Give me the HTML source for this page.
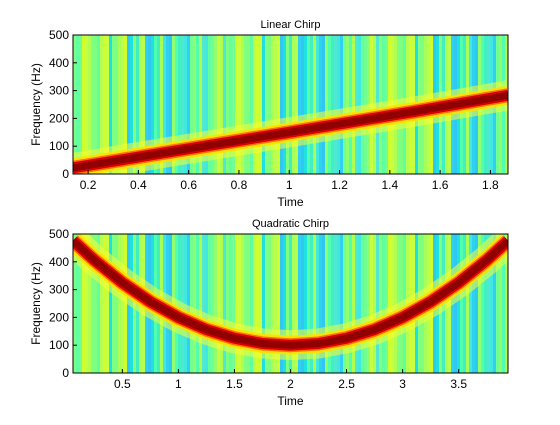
<!DOCTYPE html>
<html><head><meta charset="utf-8"><style>
body{margin:0;background:#fff;}
svg text{font-family:"Liberation Sans",sans-serif;fill:#000;}
</style></head><body>
<svg id="c" width="560" height="420" xmlns="http://www.w3.org/2000/svg"></svg>
<script>
const linT=[0.14,0.5,1.0,1.5,1.87];
const linF=[22,76,150,225,283];
const quadT=[0.06,0.25,0.5,0.75,1,1.25,1.5,1.75,2,2.25,2.5,2.75,3,3.25,3.5,3.75,3.94];
const quadF=[476,406,325,256,200,156,125,106,100,106,125,156,200,256,325,406,476];
const topXTicks=[0.2,0.4,0.6,0.8,1,1.2,1.4,1.6,1.8];
const botXTicks=[0.5,1,1.5,2,2.5,3,3.5];
const yTicks=[0,100,200,300,400,500];
const stripeCols=['#7fff80','#40f0c0','#b0ff50','#20e0e0','#90ff70','#d0ff30','#30d0f0','#60ffa0','#a8ff58','#50e8d0','#80ff80','#50ffb0','#c8ff40','#30c8f0','#70ff90','#b8ff50','#40e8e0'];
const NS='http://www.w3.org/2000/svg';
const svg=document.getElementById('c');
function mk(t,a,p){const e=document.createElementNS(NS,t);for(const k in a)e.setAttribute(k,a[k]);(p||svg).appendChild(e);return e;}
function panel(name,top,x0,x1,T,F,xt,title){
  const L=73,R=508,B=top+139;
  const X=v=>L+(v-x0)/(x1-x0)*(R-L), Y=v=>B-v/500*(B-top);
  const g=mk('g',{});
  
  
  const cid='clip'+name;
  const cp=mk('clipPath',{id:cid},g);mk('rect',{x:L,y:top,width:R-L,height:B-top},cp);
  const inner=mk('g',{'clip-path':'url(#'+cid+')'},g);
  mk('rect',{x:L,y:top,width:R-L,height:B-top,fill:'#90ff70'},inner);
  let k=0;
  for(let x=L;x<R;x+=3){
    const s=mk('rect',{x:x,y:top,width:3,height:B-top,fill:stripeCols[(k*7+Math.floor(k/3))%stripeCols.length]},inner);
    
    
    k++;
  }
  const pts=T.map((t,i)=>X(t)+','+Y(F[i])).join(' ');
  [['#f8ff30',30,0.55],['#ffe000',19,0.9],['#ff7000',14,1],['#d80000',11,1],['#900000',7,1]].forEach(([c,w,o])=>{
    const p=mk('polyline',{points:pts,fill:'none',stroke:c,'stroke-width':w,'stroke-opacity':o,'stroke-linejoin':'round'},inner);
    
    
  });
  mk('rect',{x:L,y:top,width:R-L,height:B-top,fill:'none',stroke:'#000','stroke-width':1},g);
  xt.forEach(v=>{
    mk('line',{x1:X(v),x2:X(v),y1:B,y2:B-4,stroke:'#000'},g);
    const t=mk('text',{x:X(v),y:B+15,'font-size':12,'text-anchor':'middle'},g);t.textContent=v;
    
    
  });
  yTicks.forEach(v=>{
    mk('line',{x1:L,x2:L+4,y1:Y(v),y2:Y(v),stroke:'#000'},g);
    const t=mk('text',{x:L-4,y:Y(v)+4,'font-size':12,'text-anchor':'end'},g);t.textContent=v;
    
    
  });
  const ti=mk('text',{x:(L+R)/2,y:top-7,'font-size':11,'text-anchor':'middle'},g);ti.textContent=title;
  
  
  const xl=mk('text',{x:(L+R)/2,y:B+32,'font-size':12,'text-anchor':'middle'},g);xl.textContent='Time';
  
  
  const yl=mk('text',{x:0,y:0,'font-size':12,'text-anchor':'middle',transform:'translate(40,'+((top+B)/2)+') rotate(-90)'},g);yl.textContent='Frequency (Hz)';
  
  
}
panel('linear-chirp-plot',35,0.14,1.87,linT,linF,topXTicks,'Linear Chirp');
panel('quadratic-chirp-plot',234,0.06,3.94,quadT,quadF,botXTicks,'Quadratic Chirp');
</script>
</body></html>
